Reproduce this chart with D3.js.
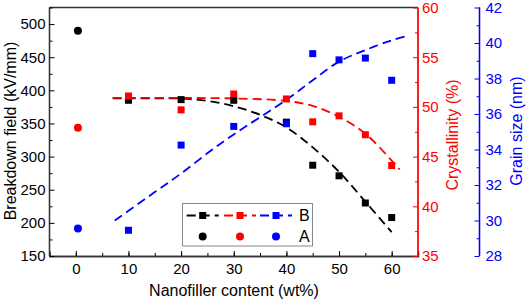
<!DOCTYPE html>
<html>
<head>
<meta charset="utf-8">
<script src="https://cdn.jsdelivr.net/npm/d3@7"></script>
<style>
  body { margin: 0; background: #fff; }
  text { font-family: "Liberation Sans", Arial, sans-serif; }
</style>
</head>
<body>
<div id="chart"></div>
<script>
// measured data (nanofiller wt%)
const contents = [10, 20, 30, 40, 45, 50, 55, 60];
const breakdownB = [385, 386, 385, 352, 287, 271, 230, 208];
const crystalB = [51.1, 49.7, 51.3, 50.8, 48.5, 49.1, 47.2, 44.1];
const grainB = [29.45, 34.25, 35.3, 35.45, 39.4, 39.05, 39.15, 37.9];

// pure sample (A)
const contentA = 0.4;
const breakdownA = 490;
const crystalA = 47.9;
const grainA = 29.55;

// dashed fit curves: [wt%, value]
const breakdownFit = [[7, 388], [15, 388], [20, 387.5], [25, 384], [30, 376], [35, 363], [40, 344], [45, 314], [50, 277], [55, 232], [60, 186]];
const crystalFit = [[7, 50.9], [20, 50.9], [30, 50.85], [40, 50.6], [45, 50.1], [50, 49.0], [55, 47.3], [60, 44.6], [61.5, 43.7]];
const grainFit = [[7.4, 30.0], [15, 31.6], [20, 32.65], [25.5, 33.9], [30, 34.85], [40, 36.8], [45, 37.9], [50, 38.95], [55, 39.6], [60, 40.15], [63, 40.4]];

const xTicks = [0, 10, 20, 30, 40, 50, 60];
const leftTicks = [150, 200, 250, 300, 350, 400, 450, 500];
const redTicks = [35, 40, 45, 50, 55, 60];
const blueTicks = [28, 30, 32, 34, 36, 38, 40, 42];

const W = 526, H = 302;
const plot = { left: 49.5, right: 418, top: 7.5, bottom: 256 };
const blueAxisX = 479.5;

const svg = d3.select("#chart").append("svg")
    .attr("width", W)
    .attr("height", H);

const x = d3.scaleLinear().domain([-5, 65]).range([plot.left, plot.right]);
const yL = d3.scaleLinear().domain([150, 525]).range([plot.bottom, plot.top]);
const yR = d3.scaleLinear().domain([35, 60]).range([plot.bottom, plot.top]);
const yB = d3.scaleLinear().domain([28, 42]).range([plot.bottom, plot.top]);

const red = "#ff0000", blue = "#0000ff", black = "#000000";
const tickFont = 15, titleFont = 16;

// frame top
svg.append("line")
    .attr("x1", plot.left).attr("x2", plot.right)
    .attr("y1", plot.top).attr("y2", plot.top)
    .attr("stroke", "#333").attr("stroke-width", 1.3);

// bottom axis
let gx = svg.append("g").attr("transform", `translate(0,${plot.bottom})`);
gx.call(d3.axisBottom(x).tickValues(d3.range(-5, 66, 5)).tickSize(-3).tickFormat(""));
let gx2 = svg.append("g").attr("transform", `translate(0,${plot.bottom})`);
gx2.call(d3.axisBottom(x).tickValues(xTicks).tickSize(-5));
[gx, gx2].forEach(g => g.select(".domain").attr("stroke", "#333").attr("stroke-width", 1.3));
gx2.selectAll(".tick text").attr("font-size", tickFont).attr("fill", black).attr("y", 7);

// left axis
let gy = svg.append("g").attr("transform", `translate(${plot.left},0)`);
gy.call(d3.axisLeft(yL).tickValues(d3.range(175, 526, 50)).tickSize(-3).tickFormat(""));
let gy2 = svg.append("g").attr("transform", `translate(${plot.left},0)`);
gy2.call(d3.axisLeft(yL).tickValues(leftTicks).tickSize(-5));
[gy, gy2].forEach(g => g.select(".domain").attr("stroke", "#333").attr("stroke-width", 1.3)
    .attr("d", `M0,${plot.top}V${plot.bottom}`));
gy2.selectAll(".tick text").attr("font-size", tickFont).attr("fill", black).attr("x", -4);

// red axis (crystallinity)
let gr = svg.append("g").attr("transform", `translate(${plot.right},0)`);
gr.call(d3.axisRight(yR).tickValues(d3.range(37.5, 60, 5)).tickSize(-3).tickFormat(""));
let gr2 = svg.append("g").attr("transform", `translate(${plot.right},0)`);
gr2.call(d3.axisRight(yR).tickValues(redTicks).tickSize(-5));
[gr, gr2].forEach(g => {
    g.select(".domain").attr("stroke", red).attr("stroke-width", 1.3).attr("d", `M0,${plot.top}V${plot.bottom}`);
    g.selectAll(".tick line").attr("stroke", red);
});
gr2.selectAll(".tick text").attr("font-size", tickFont).attr("fill", red).attr("x", 4);

// blue axis (grain size)
let gb = svg.append("g").attr("transform", `translate(${blueAxisX},0)`);
gb.call(d3.axisRight(yB).tickValues(d3.range(29, 42, 2)).tickSize(-3).tickFormat(""));
let gb2 = svg.append("g").attr("transform", `translate(${blueAxisX},0)`);
gb2.call(d3.axisRight(yB).tickValues(blueTicks).tickSize(-5));
[gb, gb2].forEach(g => {
    g.select(".domain").attr("stroke", blue).attr("stroke-width", 1.3).attr("d", `M0,${plot.top}V${plot.bottom}`);
    g.selectAll(".tick line").attr("stroke", blue);
});
gb2.selectAll(".tick text").attr("font-size", tickFont).attr("fill", blue).attr("x", 6);

// axis titles
svg.append("text").attr("x", 234).attr("y", 296)
    .attr("text-anchor", "middle").attr("font-size", titleFont).text("Nanofiller content (wt%)");
svg.append("text").attr("transform", "translate(16,131) rotate(-90)")
    .attr("text-anchor", "middle").attr("font-size", titleFont).text("Breakdown field (kV/mm)");
svg.append("text").attr("transform", "translate(458,135) rotate(-90)")
    .attr("text-anchor", "middle").attr("font-size", titleFont).attr("fill", red).text("Crystallinity (%)");
svg.append("text").attr("transform", "translate(521.5,131) rotate(-90)")
    .attr("text-anchor", "middle").attr("font-size", titleFont).attr("fill", blue).text("Grain size (nm)");

// fit lines
const line = scale => d3.line().x(d => x(d[0])).y(d => scale(d[1])).curve(d3.curveCatmullRom);
const fits = [[breakdownFit, yL, black], [crystalFit, yR, red], [grainFit, yB, blue]];
fits.forEach(([data, scale, color]) => {
    svg.append("path").datum(data)
        .attr("d", line(scale))
        .attr("fill", "none")
        .attr("stroke", color)
        .attr("stroke-width", 1.8)
        .attr("stroke-dasharray", "9,5");
});

// square markers (B)
const sq = 7;
const series = [[breakdownB, yL, black], [crystalB, yR, red], [grainB, yB, blue]];
series.forEach(([vals, scale, color]) => {
    svg.append("g").selectAll("rect").data(vals).enter().append("rect")
        .attr("x", (d, i) => x(contents[i]) - sq / 2)
        .attr("y", d => scale(d) - sq / 2)
        .attr("width", sq).attr("height", sq)
        .attr("fill", color);
});

// circle markers (A)
[[breakdownA, yL, black], [crystalA, yR, red], [grainA, yB, blue]].forEach(([v, scale, color]) => {
    svg.append("circle").attr("cx", x(contentA)).attr("cy", scale(v)).attr("r", 4).attr("fill", color);
});

// legend
const lg = svg.append("g");
lg.append("rect").attr("x", 182.5).attr("y", 203.5).attr("width", 130).attr("height", 42.5)
    .attr("fill", "#fff").attr("stroke", "#888").attr("stroke-width", 1);
const legendCols = [[202.7, black], [240, red], [276, blue]];
legendCols.forEach(([cx, color]) => {
    lg.append("line").attr("x1", cx - 16).attr("x2", cx + 16).attr("y1", 215.5).attr("y2", 215.5)
        .attr("stroke", color).attr("stroke-width", 1.8).attr("stroke-dasharray", "9,5");
    lg.append("rect").attr("x", cx - sq / 2).attr("y", 215.5 - sq / 2).attr("width", sq).attr("height", sq).attr("fill", color);
    lg.append("circle").attr("cx", cx).attr("cy", 236.5).attr("r", 4).attr("fill", color);
});
lg.append("text").attr("x", 299).attr("y", 221).attr("font-size", 16).text("B");
lg.append("text").attr("x", 299).attr("y", 242).attr("font-size", 16).text("A");
</script>
</body>
</html>
